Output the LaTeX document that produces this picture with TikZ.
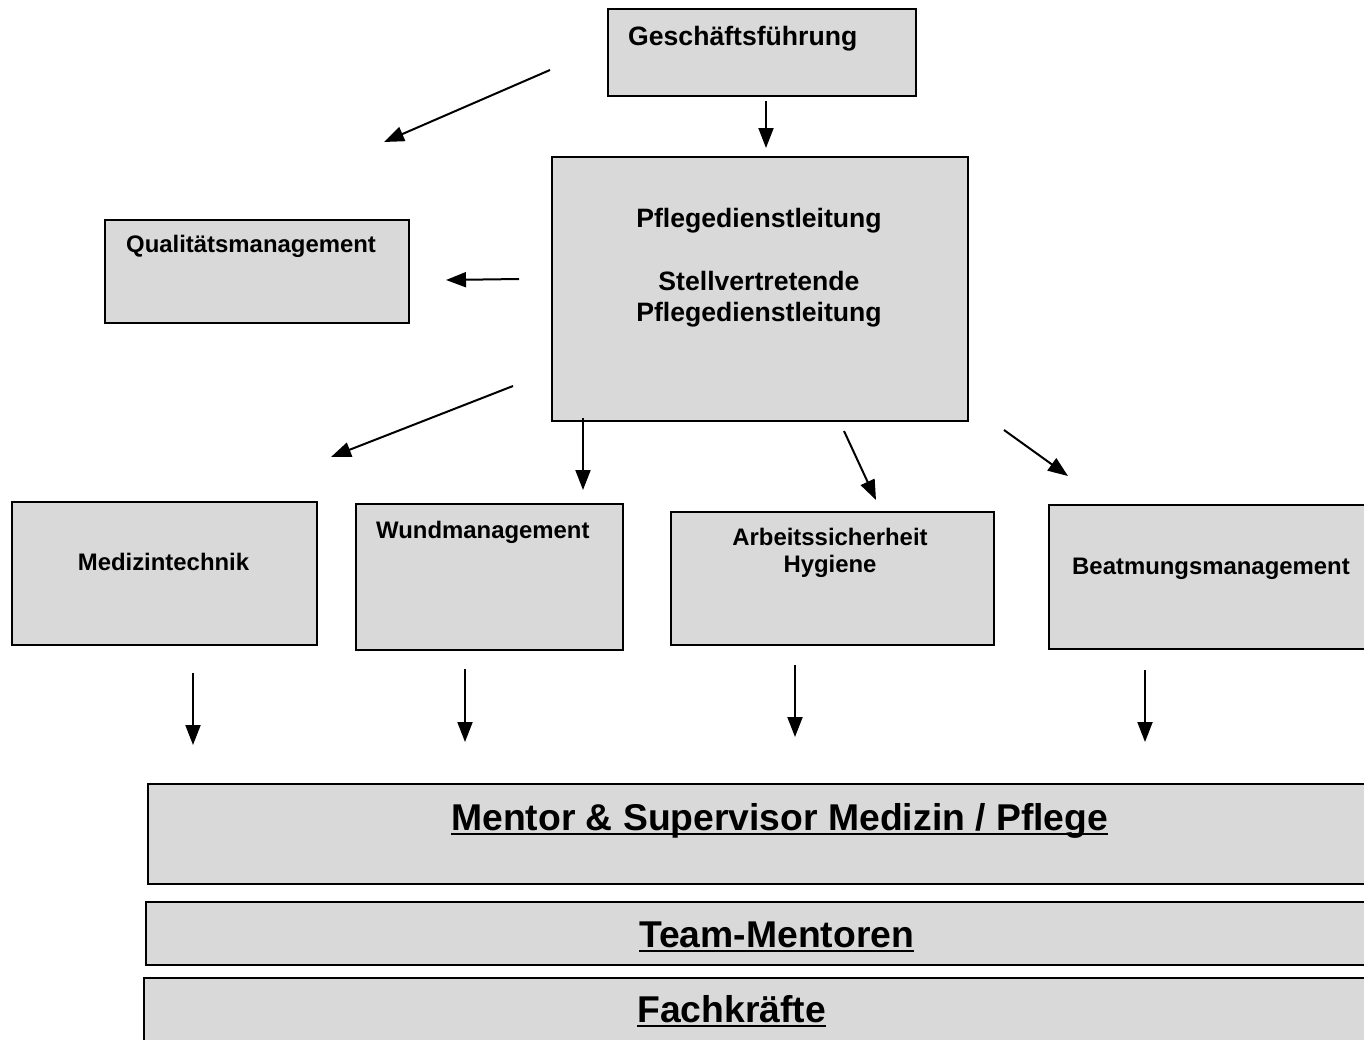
\documentclass[tikz,border=0pt]{standalone}
\usepackage{fontspec}
\setmainfont{Liberation Sans}
\usetikzlibrary{arrows.meta}
\definecolor{boxgray}{HTML}{D9D9D9}
\newcommand{\myul}[1]{\setbox0\hbox{#1}\rlap{\rule[-0.14em]{\wd0}{0.065em}}\box0}
\begin{document}
\begin{tikzpicture}[x=1pt,y=-1pt,
  box/.style={draw=black,line width=2pt,fill=boxgray,inner sep=0pt,anchor=north west},
  lbl/.style={inner sep=0pt,font=\bfseries\fontsize{23.9}{27}\selectfont},
  lblL/.style={inner sep=0pt,font=\bfseries\fontsize{26.6}{30}\selectfont},
  lblXL/.style={inner sep=0pt,font=\bfseries\fontsize{37.3}{42}\selectfont},
  arr/.style={line width=2pt,-{Triangle[length=20pt,width=15pt]}}]
\useasboundingbox (0,0) rectangle (1364,1039);
\clip (0,0) rectangle (1364,1039);
% boxes
\node[box,minimum width=308pt,minimum height=87pt] (gf) at (607,8) {};
\node[box,minimum width=416pt,minimum height=264pt] (pdl) at (551,156) {};
\node[box,minimum width=304pt,minimum height=103pt] (qm) at (104,219) {};
\node[box,minimum width=305pt,minimum height=143pt] (mt) at (11,501) {};
\node[box,minimum width=267pt,minimum height=146pt] (wm) at (355,503) {};
\node[box,minimum width=323pt,minimum height=133pt] (as) at (670,511) {};
\node[box,minimum width=340pt,minimum height=144pt] (bm) at (1048,504) {};
\node[box,minimum width=1250pt,minimum height=100pt] (ms) at (147,783) {};
\node[box,minimum width=1250pt,minimum height=63pt] (tm) at (145,901) {};
\node[box,minimum width=1250pt,minimum height=80pt] (fk) at (143,977) {};
% texts
\node[lblL,anchor=base west] (tgf) at (628,45) {Geschäftsführung};
\node[lblL,anchor=base] (tpdl1) at (759,227) {Pflegedienstleitung};
\node[lblL,anchor=base] (tpdl2) at (759,290) {Stellvertretende};
\node[lblL,anchor=base] (tpdl3) at (759,321) {Pflegedienstleitung};
\node[lbl,anchor=base west] (tqm) at (126,252) {Qualitätsmanagement};
\node[lbl,anchor=base] (tmt) at (163.5,570) {Medizintechnik};
\node[lbl,anchor=base west] (twm) at (376,538) {Wundmanagement};
\node[lbl,anchor=base] (tas1) at (830,545) {Arbeitssicherheit};
\node[lbl,anchor=base] (tas2) at (830,572) {Hygiene};
\node[lbl,anchor=base west] (tbm) at (1072,574) {Beatmungsmanagement};
\node[lblXL,anchor=base west] (tms) at (451,830) {\myul{Mentor \& Supervisor Medizin / Pflege}};
\node[lblXL,anchor=base west] (ttm) at (639,947) {\myul{Team-Mentoren}};
\node[lblXL,anchor=base west] (tfk) at (637,1022) {\myul{Fachkräfte}};
% arrow end points
\coordinate (a1s) at (550,70);   \coordinate (a1e) at (384,142);
\coordinate (a2s) at (766,101);  \coordinate (a2e) at (766,148);
\coordinate (a3s) at (519,279);  \coordinate (a3e) at (446,280);
\coordinate (a4s) at (513,386);  \coordinate (a4e) at (331,457);
\coordinate (a5s) at (583,418);  \coordinate (a5e) at (583,490);
\coordinate (a6s) at (844,431);  \coordinate (a6e) at (876,500);
\coordinate (a7s) at (1004,430); \coordinate (a7e) at (1068,476);
\coordinate (a8s) at (193,673);  \coordinate (a8e) at (193,745);
\coordinate (a9s) at (465,669);  \coordinate (a9e) at (465,742);
\coordinate (a10s) at (795,665); \coordinate (a10e) at (795,737);
\coordinate (a11s) at (1145,670);\coordinate (a11e) at (1145,742);
\foreach \i in {1,...,11} {\draw[arr] (a\i s) -- (a\i e);}
\end{tikzpicture}
\end{document}
